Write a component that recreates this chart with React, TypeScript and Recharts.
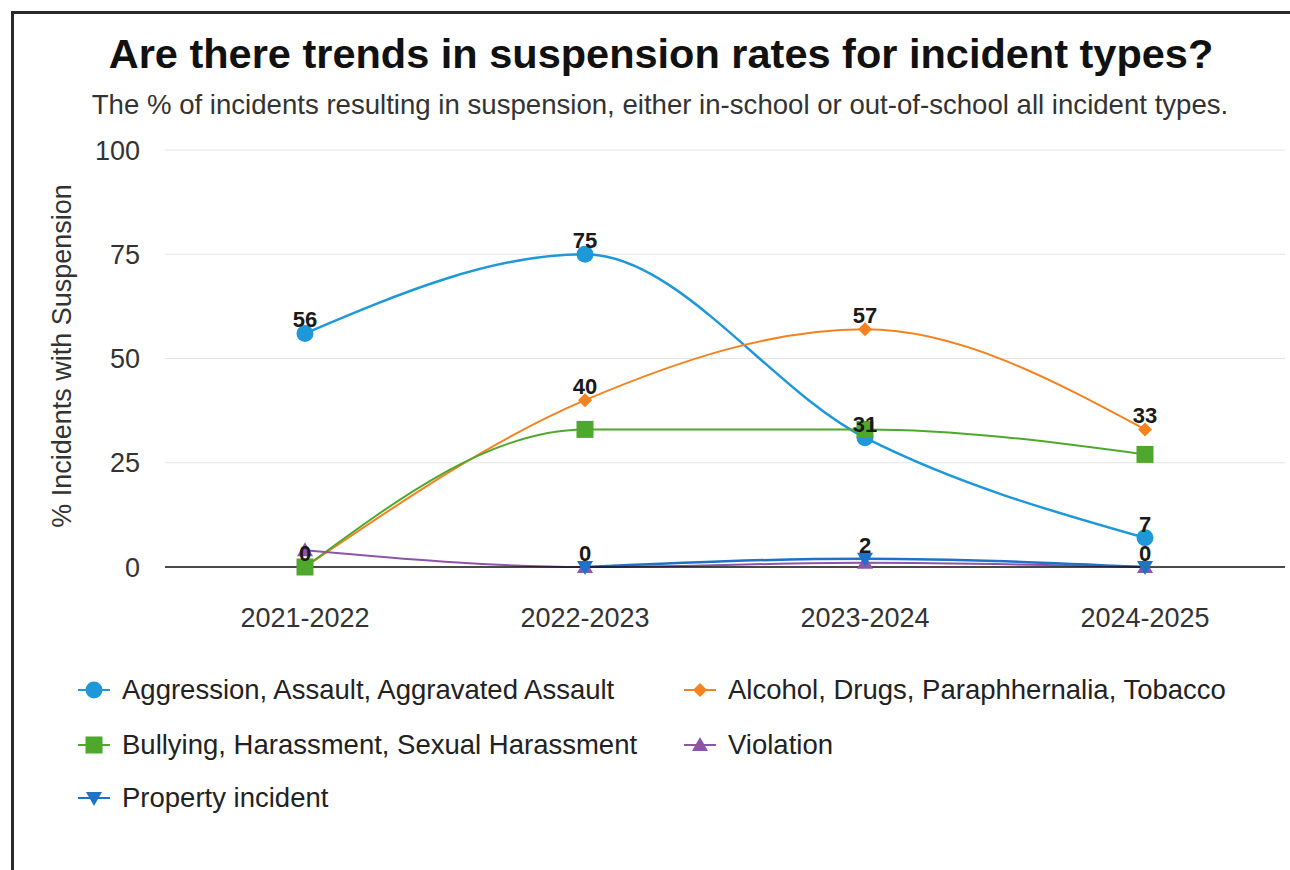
import React from 'react';
import { LineChart, Line, XAxis, YAxis, CartesianGrid, LabelList } from 'recharts';

const categories = ['2021-2022', '2022-2023', '2023-2024', '2024-2025'];
const aggression = [56, 75, 31, 7];
const alcohol = [0, 40, 57, 33];
const bullying = [0, 33, 33, 27];
const violation = [4, 0, 1, 0];
const property: (number | null)[] = [null, 0, 2, 0];
const yTicks = [0, 25, 50, 75, 100];

const FONT = 'Liberation Sans, Arial, sans-serif';

const series = [
  { key: 'aggression', name: 'Aggression, Assault, Aggravated Assault', color: '#1e98d8', shape: 'circle', labels: true, width: 2.5 },
  { key: 'alcohol', name: 'Alcohol, Drugs, Paraphhernalia, Tobacco', color: '#f5821f', shape: 'diamond', labels: true, width: 2 },
  { key: 'bullying', name: 'Bullying, Harassment, Sexual Harassment', color: '#4fa82c', shape: 'square', labels: false, width: 2 },
  { key: 'violation', name: 'Violation', color: '#8c55aa', shape: 'triangle', labels: false, width: 2 },
  { key: 'property', name: 'Property incident', color: '#1f72c6', shape: 'triangleDown', labels: true, width: 2.5 },
];

const data = categories.map((c, i) => ({
  cat: c,
  aggression: aggression[i],
  alcohol: alcohol[i],
  bullying: bullying[i],
  violation: violation[i],
  property: property[i],
}));

function Marker({ cx, cy, color, shape }: any) {
  if (cx == null || cy == null || isNaN(cx) || isNaN(cy)) return null;
  switch (shape) {
    case 'circle':
      return <circle cx={cx} cy={cy} r={8.5} fill={color} />;
    case 'diamond':
      return <path d={`M${cx},${cy - 7}L${cx + 7},${cy}L${cx},${cy + 7}L${cx - 7},${cy}Z`} fill={color} />;
    case 'square':
      return <rect x={cx - 8.5} y={cy - 8.5} width={17} height={17} fill={color} />;
    case 'triangle':
      return <path d={`M${cx},${cy - 8}L${cx + 8},${cy + 6}L${cx - 8},${cy + 6}Z`} fill={color} />;
    case 'triangleDown':
      return <path d={`M${cx - 8},${cy - 6}L${cx + 8},${cy - 6}L${cx},${cy + 8}Z`} fill={color} />;
  }
  return null;
}

function LegendItem({ s, left, top }: any) {
  return (
    <div style={{ position: 'absolute', left, top, display: 'flex', alignItems: 'center', height: 34, whiteSpace: 'nowrap' }}>
      <svg width={36} height={24} style={{ marginRight: 10 }}>
        <line x1={2} y1={12} x2={34} y2={12} stroke={s.color} strokeWidth={2} />
        <Marker cx={18} cy={12} color={s.color} shape={s.shape} />
      </svg>
      <span style={{ fontFamily: FONT, fontSize: 27.5, color: '#222' }}>{s.name}</span>
    </div>
  );
}

export default function App() {
  return (
    <div style={{ position: 'absolute', left: 0, top: 0, width: 1290, height: 870, background: '#fff', overflow: 'hidden' }}>
      <div style={{ position: 'absolute', left: 11, top: 11, width: 1300, height: 900, borderTop: '3px solid #2a2a2a', borderLeft: '3px solid #2a2a2a' }} />
      <div style={{ position: 'absolute', left: 0, top: 30, width: 1322, textAlign: 'center', fontFamily: FONT, fontWeight: 'bold', fontSize: 41.5, color: '#111', whiteSpace: 'nowrap' }}>
        Are there trends in suspension rates for incident types?
      </div>
      <div style={{ position: 'absolute', left: 0, top: 89, width: 1320, textAlign: 'center', fontFamily: FONT, fontSize: 27.6, color: '#333', whiteSpace: 'nowrap' }}>
        The % of incidents resulting in suspension, either in-school or out-of-school all incident types.
      </div>
      <div style={{ position: 'absolute', left: 62, top: 356, transform: 'translate(-50%, -50%) rotate(-90deg)', whiteSpace: 'nowrap', fontFamily: FONT, fontSize: 27, color: '#333' }}>
        % Incidents with Suspension
      </div>
      <div style={{ position: 'absolute', left: 0, top: 0 }}>
        <LineChart width={1290} height={870} data={data} margin={{ top: 150, right: 5, bottom: 263, left: 105 }}>
          <CartesianGrid horizontal={true} vertical={false} stroke="#e4e4e4" />
          <XAxis
            dataKey="cat"
            padding={{ left: 140, right: 140 }}
            height={40}
            axisLine={{ stroke: '#111', strokeWidth: 1.5 }}
            tickLine={false}
            tickSize={0}
            tickMargin={41}
            tick={{ fontFamily: FONT, fontSize: 27, fill: '#333' }}
          />
          <YAxis
            domain={[0, 100]}
            ticks={yTicks}
            width={60}
            axisLine={false}
            tickLine={false}
            tickSize={0}
            tickMargin={25}
            tick={{ fontFamily: FONT, fontSize: 27, fill: '#333' }}
          />
          {series.map((s) => (
            <Line
              key={s.key}
              type="monotone"
              dataKey={s.key}
              name={s.name}
              stroke={s.color}
              strokeWidth={s.width}
              isAnimationActive={false}
              dot={(p: any) => <Marker key={`${s.key}-${p.index}`} cx={p.cx} cy={p.cy} color={s.color} shape={s.shape} />}
              activeDot={false}
            >
              {s.labels && (
                <LabelList
                  dataKey={s.key}
                  position="top"
                  offset={6}
                  style={{ fontFamily: FONT, fontSize: 22, fontWeight: 'bold', fill: '#1a1a1a' }}
                />
              )}
            </Line>
          ))}
        </LineChart>
      </div>
      <LegendItem s={series[0]} left={76} top={673} />
      <LegendItem s={series[1]} left={682} top={673} />
      <LegendItem s={series[2]} left={76} top={728} />
      <LegendItem s={series[3]} left={682} top={728} />
      <LegendItem s={series[4]} left={76} top={781} />
    </div>
  );
}
